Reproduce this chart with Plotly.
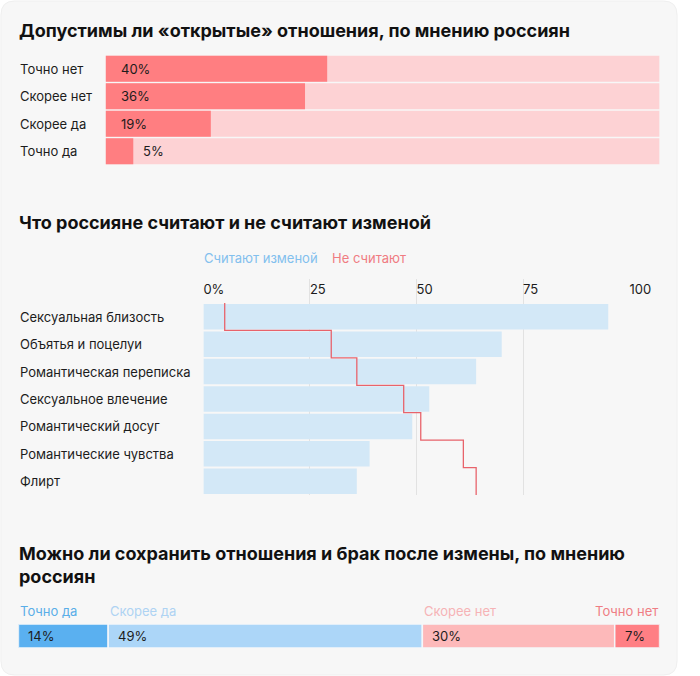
import plotly.graph_objects as go

W, H = 700, 676
BG = "#f7f7f7"
FONT = "Inter"
TXT = "#1c1c1c"

# ---------- data ----------
open_title = "Допустимы ли «открытые» отношения, по мнению россиян"
open_cats = ["Точно нет", "Скорее нет", "Скорее да", "Точно да"]
open_vals = [40, 36, 19, 5]

betray_title = "Что россияне считают и не считают изменой"
betray_cats = ["Сексуальная близость", "Объятья и поцелуи", "Романтическая переписка",
               "Сексуальное влечение", "Романтический досуг", "Романтические чувства", "Флирт"]
betray_yes = [95, 70, 64, 53, 49, 39, 36]
betray_no = [5, 30, 36, 47, 51, 61, 64]
betray_series = ["Считают изменой", "Не считают"]
axis_ticks = [0, 25, 50, 75, 100]
axis_ticktext = ["0%", "25", "50", "75", "100"]

save_title = "Можно ли сохранить отношения и брак после измены, по мнению<br>россиян"
save_cats = ["Точно да", "Скорее да", "Скорее нет", "Точно нет"]
save_vals = [14, 49, 30, 7]

SCALE_MAX = 100


def px(x):
    return x / W


def py(y):
    return 1 - y / H


fig = go.Figure()
ann = []

# ---------- section 1 ----------
fig.add_trace(go.Bar(y=open_cats, x=[SCALE_MAX] * len(open_cats), orientation="h",
                     marker=dict(color="#fdd2d4", line=dict(width=0)),
                     xaxis="x", yaxis="y", hoverinfo="skip", showlegend=False))
fig.add_trace(go.Bar(y=open_cats, x=open_vals, orientation="h",
                     marker=dict(color="#ff7e81", line=dict(width=0)),
                     xaxis="x", yaxis="y", showlegend=False))
for c, v in zip(open_cats, open_vals):
    inside = v >= 10
    ann.append(dict(xref="x", yref="y", x=0 if inside else v, y=c,
                    xshift=13 if inside else 8, xanchor="left", yanchor="middle",
                    text=f"{v}%", showarrow=False, font=dict(size=13, color=TXT)))
    ann.append(dict(xref="paper", yref="y", x=px(19), y=c, xanchor="left", yanchor="middle",
                    text=c, showarrow=False, font=dict(size=13, color=TXT)))
ann.append(dict(xref="paper", yref="paper", x=px(18), y=py(30), xanchor="left", yanchor="middle",
                text=f"<b>{open_title}</b>", showarrow=False,
                font=dict(size=18, color="#111111")))

# ---------- section 2 ----------
n2 = len(betray_cats)
rows = list(range(n2))
fig.add_trace(go.Bar(y=rows, x=betray_yes, orientation="h", width=0.93,
                     marker=dict(color="#d3e8f7", line=dict(width=0)),
                     xaxis="x2", yaxis="y2", showlegend=False, name=betray_series[0]))
fig.add_trace(go.Scatter(x=betray_no + [betray_no[-1]],
                         y=[r - 0.5 for r in rows] + [n2 - 0.5],
                         mode="lines", line=dict(color="#e8636b", width=1.3, shape="vh"),
                         xaxis="x2", yaxis="y2", showlegend=False, name=betray_series[1]))
for r, c in zip(rows, betray_cats):
    ann.append(dict(xref="paper", yref="y2", x=px(19), y=r, xanchor="left", yanchor="middle",
                    text=c, showarrow=False, font=dict(size=13, color=TXT)))
ann.append(dict(xref="paper", yref="paper", x=px(18), y=py(222), xanchor="left", yanchor="middle",
                text=f"<b>{betray_title}</b>", showarrow=False,
                font=dict(size=18, color="#111111")))
ann.append(dict(xref="paper", yref="paper", x=px(209), y=py(258), xanchor="left", yanchor="middle",
                text=betray_series[0], showarrow=False, font=dict(size=13, color="#82c0ee")))
ann.append(dict(xref="paper", yref="paper", x=px(341), y=py(258), xanchor="left", yanchor="middle",
                text=betray_series[1], showarrow=False, font=dict(size=13, color="#f07c82")))

# ---------- section 3 ----------
save_colors = ["#5ab0f0", "#acd6f8", "#fdb9ba", "#ff7f84"]
save_label_colors = ["#5aaee8", "#aed3f3", "#f6b3b6", "#ef7d84"]
base = 0
for i, (c, v) in enumerate(zip(save_cats, save_vals)):
    fig.add_trace(go.Bar(y=["all"], x=[v], base=[base], orientation="h", width=1,
                         marker=dict(color=save_colors[i], line=dict(width=1.5, color="#f4f7fa")),
                         xaxis="x3", yaxis="y3", showlegend=False, name=c))
    ann.append(dict(xref="x3", yref="y3", x=base, y="all", xshift=8, xanchor="left",
                    yanchor="middle", text=f"{v}%", showarrow=False,
                    font=dict(size=13, color=TXT)))
    last = i == len(save_cats) - 1
    ann.append(dict(xref="x3", yref="paper", x=base + v if last else base, y=py(611),
                    xanchor="right" if last else "left", yanchor="middle", text=c,
                    showarrow=False, font=dict(size=13, color=save_label_colors[i])))
    base += v
ann.append(dict(xref="paper", yref="paper", x=px(18), y=py(565), xanchor="left", yanchor="middle",
                text=f"<b>{save_title}</b>", showarrow=False, align="left",
                font=dict(size=18, color="#111111")))

# ---------- card background ----------
r = 14
x0, x1, y0, y1 = 1, 699, 1, 675
path = (f"M {px(x0 + r)} {py(y0)} L {px(x1 - r)} {py(y0)} Q {px(x1)} {py(y0)} {px(x1)} {py(y0 + r)} "
        f"L {px(x1)} {py(y1 - r)} Q {px(x1)} {py(y1)} {px(x1 - r)} {py(y1)} "
        f"L {px(x0 + r)} {py(y1)} Q {px(x0)} {py(y1)} {px(x0)} {py(y1 - r)} "
        f"L {px(x0)} {py(y0 + r)} Q {px(x0)} {py(y0)} {px(x0 + r)} {py(y0)} Z")

fig.update_layout(
    width=W, height=H, autosize=False, margin=dict(l=0, r=0, t=0, b=0),
    paper_bgcolor="white", plot_bgcolor="rgba(0,0,0,0)",
    font=dict(family=FONT, size=13, color=TXT),
    barmode="overlay", bargap=0.06,
    shapes=[dict(type="path", path=path, xref="paper", yref="paper",
                 fillcolor=BG, line=dict(width=1, color="#efefef"), layer="below")],
    annotations=ann,
    xaxis=dict(domain=[px(109), px(681)], range=[0, SCALE_MAX], visible=False,
               anchor="y", fixedrange=True),
    yaxis=dict(domain=[py(165), py(55)], type="category", categoryarray=open_cats,
               range=[len(open_cats) - 0.5, -0.5], visible=False, anchor="x"),
    xaxis2=dict(domain=[px(210), px(650)], range=[0, SCALE_MAX], anchor="y2", side="top",
                tickvals=axis_ticks, ticktext=axis_ticktext, ticks="",
                ticklabelposition="inside right", ticklabeloverflow="allow",
                showgrid=True, gridcolor="#e2e2e2", gridwidth=1, zeroline=False,
                showline=False, tickfont=dict(size=13, color=TXT)),
    yaxis2=dict(domain=[py(495), py(279)], range=[n2 - 0.5, -1.375], visible=False,
                anchor="x2"),
    xaxis3=dict(domain=[px(19), px(681)], range=[0, SCALE_MAX], visible=False, anchor="y3"),
    yaxis3=dict(domain=[py(648), py(624)], type="category", visible=False, anchor="x3"),
)

fig.write_html("out.html",
               config={"responsive": False, "displayModeBar": False},
               post_script="document.body.style.margin='0';document.body.style.overflow='hidden';"
                           "document.documentElement.style.overflow='hidden';")
